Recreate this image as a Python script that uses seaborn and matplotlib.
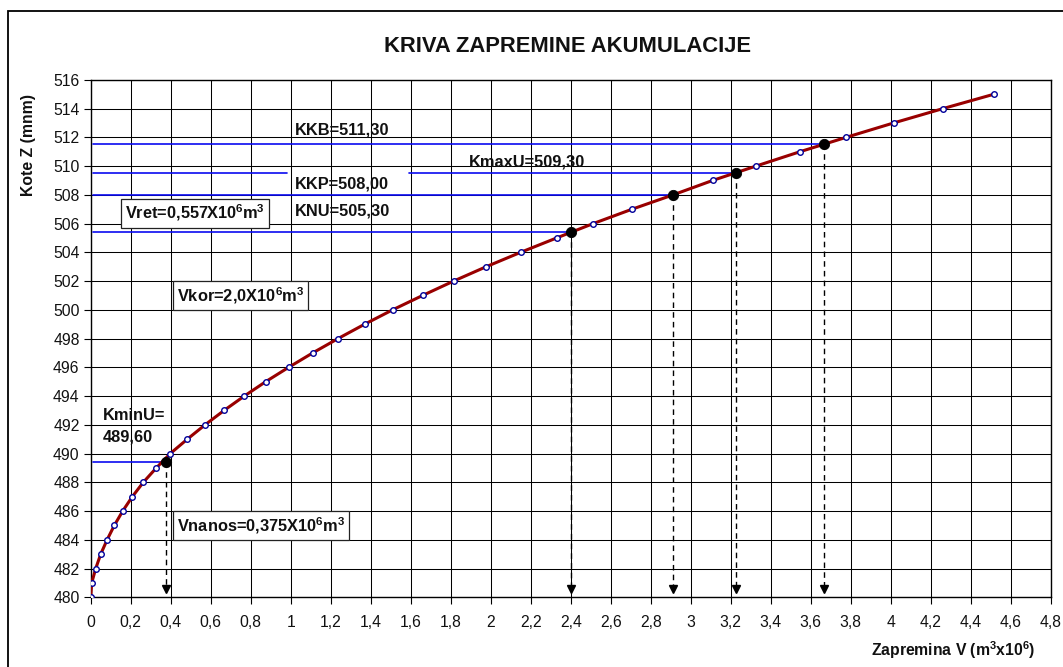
import matplotlib
matplotlib.use("Agg")
import matplotlib.pyplot as plt
from matplotlib.patches import Rectangle
import seaborn as sns
import pandas as pd
import numpy as np

# ---- data ----
kote_z = [480, 481, 482, 483, 484, 485, 486, 487, 488, 489, 490, 491, 492, 493,
          494, 495, 496, 497, 498, 499, 500, 501, 502, 503, 504, 505, 506, 507,
          508, 509, 510, 511, 512, 513, 514, 515]
zapremina_v = [0.0, 0.005, 0.025, 0.05, 0.082, 0.118, 0.16, 0.208, 0.263, 0.328,
               0.398, 0.483, 0.572, 0.667, 0.768, 0.875, 0.99, 1.11, 1.237, 1.37,
               1.51, 1.66, 1.815, 1.978, 2.15, 2.33, 2.513, 2.707, 2.913, 3.11,
               3.327, 3.547, 3.778, 4.015, 4.262, 4.517]

# characteristic levels (as drawn) and their volumes
level_names = ["KKB", "KmaxU", "KKP", "KNU", "KminU"]
level_z = [511.5, 509.5, 508.0, 505.4, 489.4]
level_v = [3.667, 3.225, 2.913, 2.40, 0.376]
level_labels = ["KKB=511,30", "KmaxU=509,30", "KKP=508,00", "KNU=505,30"]

x_ticks = [0, 0.2, 0.4, 0.6, 0.8, 1, 1.2, 1.4, 1.6, 1.8, 2, 2.2, 2.4, 2.6, 2.8,
           3, 3.2, 3.4, 3.6, 3.8, 4, 4.2, 4.4, 4.6, 4.8]
y_ticks = list(range(480, 517, 2))

sns.set_theme(style="white")
plt.rcParams["font.family"] = ["Liberation Sans", "DejaVu Sans"]
plt.rcParams["mathtext.fontset"] = "custom"
plt.rcParams["mathtext.rm"] = "Liberation Sans:bold"
plt.rcParams["mathtext.bf"] = "Liberation Sans:bold"
plt.rcParams["mathtext.it"] = "Liberation Sans:bold"
plt.rcParams["mathtext.default"] = "bf"

W, H = 1063, 667
fig = plt.figure(figsize=(W / 100, H / 100), dpi=100)
ax = fig.add_axes([90.7 / W, 1 - 597.3 / H, 960 / W, (597.3 - 79.8) / H])

# grid
ax.set_xlim(0, 4.8)
ax.set_ylim(480, 516)
ax.set_xticks(x_ticks)
ax.set_yticks(y_ticks)
ax.set_xticklabels([("%g" % t).replace(".", ",") for t in x_ticks])
ax.set_yticklabels([str(t) for t in y_ticks])
ax.grid(True, color="black", linewidth=0.75)
ax.set_axisbelow(True)
for s in ax.spines.values():
    s.set_color("black")
    s.set_linewidth(1.0)
ax.tick_params(axis="both", direction="out", length=5, width=0.8, color="black",
               labelsize=11.3, labelcolor="#111111", bottom=True, left=True, pad=3)
ax.tick_params(axis="x", pad=8)

# horizontal blue level lines
bl = dict(color="#0a0af0", linewidth=1.2, zorder=3)
ax.plot([0.01, level_v[0]], [level_z[0], level_z[0]], **bl)
ax.plot([0.01, 0.98], [level_z[1], level_z[1]], **bl)
ax.plot([1.593, level_v[1]], [level_z[1], level_z[1]], **bl)
ax.plot([0.01, level_v[2]], [level_z[2], level_z[2]], **bl)
ax.plot([0.01, level_v[3]], [level_z[3], level_z[3]], **bl)
ax.plot([0.01, level_v[4]], [level_z[4], level_z[4]], **bl)

# dashed vertical arrows
for v, z in zip(level_v, level_z):
    ax.plot([v, v], [z, 480.6], color="black", linewidth=1.0,
            linestyle=(0, (4, 3)), zorder=3)
    ax.plot([v], [480.55], marker="v", color="black", markersize=5.5, zorder=4,
            clip_on=False)

# curve
df = pd.DataFrame({"V": zapremina_v, "Z": kote_z})
sns.lineplot(data=df, x="V", y="Z", ax=ax, color="#990000", linewidth=2.2,
             sort=False, estimator=None, zorder=5)
ax.plot(df["V"], df["Z"], linestyle="none", marker="o", markersize=4,
        markerfacecolor="white", markeredgecolor="#00009a", markeredgewidth=1.0,
        zorder=6)
pts = pd.DataFrame({"V": level_v, "Z": level_z})
sns.scatterplot(data=pts, x="V", y="Z", ax=ax, color="black", s=55,
                edgecolor="black", zorder=7)
ax.set_xlabel("")
ax.set_ylabel("")

# text labels
tkw = dict(fontsize=11.8, fontweight="bold", color="#111111", va="center",
           ha="left", zorder=8)
ax.text(1.022, 512.49, level_labels[0], **tkw)
ax.text(1.893, 510.29, level_labels[1], **tkw)
ax.text(1.022, 508.76, level_labels[2], **tkw)
ax.text(1.022, 506.85, level_labels[3], **tkw)
ax.text(0.06, 492.63, "KminU=", **tkw)
ax.text(0.06, 491.14, "489,60", **tkw)

box = dict(boxstyle="square,pad=0.25", facecolor="white", edgecolor="#222222",
           linewidth=0.9)
ax.text(0.172, 506.73, "Vret=0,557X$10^6m^3$", bbox=box, **tkw)
ax.text(0.43, 501.0, "Vkor=2,0X$10^6m^3$", bbox=box, **tkw)
ax.text(0.43, 484.97, "Vnanos=0,375X$10^6m^3$", bbox=box, **tkw)

# title and axis labels
fig.text(567.5 / W, 1 - 46.7 / H, "KRIVA ZAPREMINE AKUMULACIJE", ha="center",
         va="center", fontsize=15.8, fontweight="bold", color="#111111")
fig.text(28 / W, 1 - 145 / H, "Kote Z (mnm)", rotation=90, ha="center",
         va="center", fontsize=11.3, fontweight="bold", color="#111111")
fig.text(1035 / W, 1 - 656 / H, "Zapremina V ($m^3x10^6$)", ha="right",
         va="baseline", fontsize=11.3, fontweight="bold", color="#111111")

# outer chart frame
fig.patches.append(Rectangle((7.7 / W, -0.1), 1.2, 1 - 11 / H + 0.1,
                             transform=fig.transFigure, fill=False,
                             edgecolor="black", linewidth=1.3))

fig.savefig("out.png", dpi=100)
